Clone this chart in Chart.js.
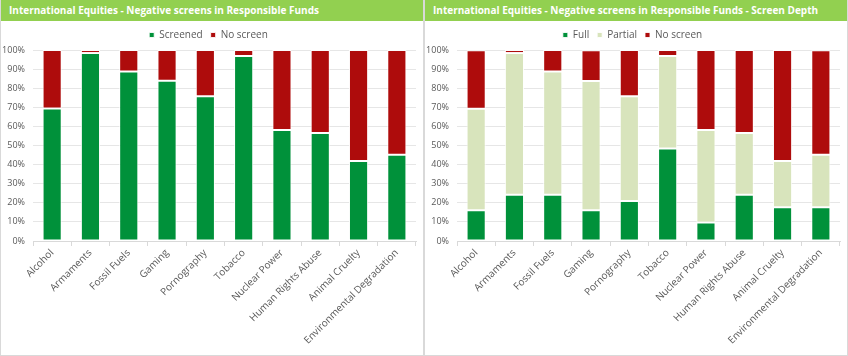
<!DOCTYPE html>
<html><head><meta charset="utf-8">
<script src="https://cdn.jsdelivr.net/npm/chart.js@4"></script>
<style>
html,body{margin:0;padding:0;background:#fff;}
#wrap{position:relative;width:848px;height:356px;overflow:hidden;font-family:"Open Sans",sans-serif;}
.panel{position:absolute;top:0;height:356px;box-sizing:border-box;border:1px solid #d9d9d9;border-top:none;background:#fff;}
.hdr{height:22px;line-height:21px;background:#92D050;color:#fff;font-weight:700;font-size:10px;padding-left:8px;white-space:nowrap;border-bottom:1px solid #fff;box-sizing:border-box;letter-spacing:0px;}
canvas{display:block;}
</style></head>
<body><div id="wrap">
<div class="panel" style="left:0;width:424px;"><div class="hdr">International Equities - Negative screens in Responsible Funds</div><canvas id="c1" width="422" height="333"></canvas></div>
<div class="panel" style="left:424px;width:424px;"><div class="hdr">International Equities - Negative screens in Responsible Funds - Screen Depth</div><canvas id="c2" width="422" height="333"></canvas></div>
</div>
<script>
const categories = ['Alcohol','Armaments','Fossil Fuels','Gaming','Pornography','Tobacco','Nuclear Power','Human Rights Abuse','Animal Cruelty','Environmental Degradation'];
const screened = [69.4, 98.4, 88.7, 83.9, 75.8, 96.8, 58.1, 56.5, 41.9, 45.2];
const noScreen = [30.6, 1.6, 11.3, 16.1, 24.2, 3.2, 41.9, 43.5, 58.1, 54.8];
const full = [16.1, 24.2, 24.2, 16.1, 21.0, 48.4, 9.7, 24.2, 17.7, 17.7];
const partial = [53.2, 74.2, 64.5, 67.7, 54.8, 48.4, 48.4, 32.3, 24.2, 27.4];
const yTicks = [0,10,20,30,40,50,60,70,80,90,100];

const GREEN='#00913A', RED='#AE0C0C', LIGHT='#D8E4BC';
const FONT='"Open Sans", sans-serif';
const TXT='#595959';

function ds(label, data, color){
  return {label, data, backgroundColor: color, borderColor:'rgba(255,255,255,0.85)', borderWidth:1, borderSkipped:false,
          categoryPercentage:1.0, barPercentage:0.5};
}
function opts(){
  return {
    responsive:false, maintainAspectRatio:false, animation:false, devicePixelRatio:1,
    layout:{padding:{left:0,right:7,top:0,bottom:0}},
    plugins:{
      legend:{position:'top', labels:{usePointStyle:true, pointStyle:'rect', boxWidth:5, boxHeight:5, padding:8,
        font:{family:FONT,size:10}, color:TXT}},
      tooltip:{enabled:false}
    },
    scales:{
      x:{stacked:true, offset:true,
        grid:{display:true, drawOnChartArea:false, drawTicks:true, tickLength:5, color:'#d9d9d9', offset:true},
        border:{display:true, color:'#d9d9d9'},
        ticks:{minRotation:45, maxRotation:45, autoSkip:false, padding:1, font:{family:FONT,size:10}, color:TXT},
        afterFit:(s)=>{s.height=114;}
      },
      y:{stacked:true, min:0, max:100,
        afterBuildTicks:(s)=>{s.ticks = yTicks.map(v=>({value:v}));},
        grid:{color:'#e6e6e6', lineWidth:1, drawTicks:false},
        border:{display:false},
        ticks:{padding:8, font:{family:FONT,size:9}, color:TXT, callback:(v)=>v+'%'},
        afterFit:(s)=>{s.width=32;}
      }
    }
  };
}
new Chart(document.getElementById('c1'),{type:'bar',
  data:{labels:categories, datasets:[ds('Screened',screened,GREEN), ds('No screen',noScreen,RED)]},
  options:opts()});
new Chart(document.getElementById('c2'),{type:'bar',
  data:{labels:categories, datasets:[ds('Full',full,GREEN), ds('Partial',partial,LIGHT), ds('No screen',noScreen,RED)]},
  options:opts()});
</script>
</body></html>
